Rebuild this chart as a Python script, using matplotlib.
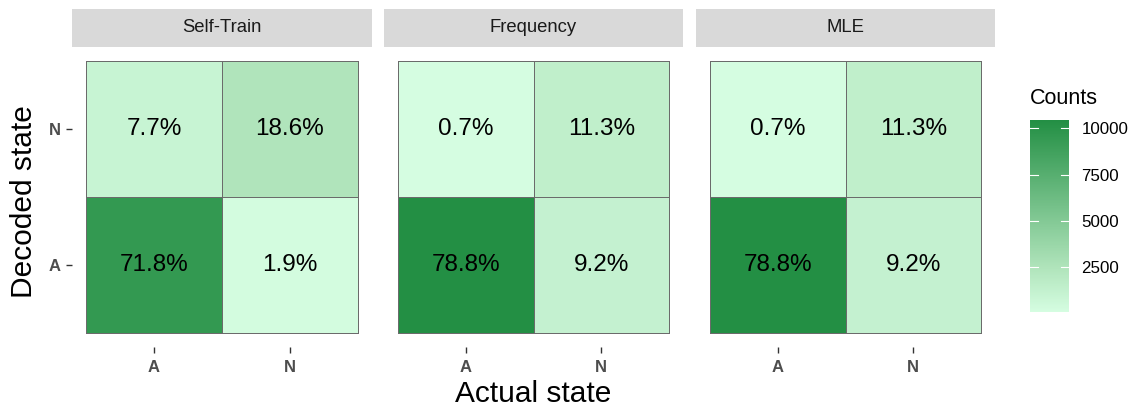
import numpy as np
import matplotlib
matplotlib.use("Agg")
import matplotlib.pyplot as plt
from matplotlib.colors import LinearSegmentedColormap, Normalize

plt.rcParams["font.family"] = ["Liberation Sans", "DejaVu Sans"]

# confusion matrices, percent of all windows (rows: decoded A, N; cols: actual A, N)
methods = ["Self-Train", "Frequency", "MLE"]
states = ["A", "N"]
pct_self_train = [[71.8, 1.9], [7.7, 18.6]]
pct_frequency = [[78.8, 9.2], [0.7, 11.3]]
pct_mle = [[78.8, 9.2], [0.7, 11.3]]
n_total = 13260
cbar_ticks = [2500, 5000, 7500, 10000]

pcts = [np.array(pct_self_train), np.array(pct_frequency), np.array(pct_mle)]
counts = [p / 100 * n_total for p in pcts]

W, H = 1134, 408
fig = plt.figure(figsize=(W / 100, H / 100), dpi=100)


def box(x0, y0, x1, y1):
    # pixel box (top-left origin) -> figure fraction rect
    return [x0 / W, 1 - y1 / H, (x1 - x0) / W, (y1 - y0) / H]


cmap = LinearSegmentedColormap.from_list(
    "cnt", [(0.0, "#d5fde1"), (0.23, "#b0e4bb"), (1.0, "#238f44")])
vmin = min(c.min() for c in counts)
vmax = max(c.max() for c in counts)
norm = Normalize(vmin=vmin, vmax=vmax)

panel_x = [(72, 372), (384, 683), (696, 995)]
edges = np.array([-0.5, 0.5, 1.5])
pad = 0.103

for i, (name, pc, cnt) in enumerate(zip(methods, pcts, counts)):
    x0, x1 = panel_x[i]
    # facet strip
    sax = fig.add_axes(box(x0, 9, x1, 47))
    sax.set_facecolor("#d9d9d9")
    sax.set_xticks([])
    sax.set_yticks([])
    for s in sax.spines.values():
        s.set_visible(False)
    sax.text(0.5, 0.5, name, ha="center", va="center", fontsize=13.3,
             color="#1a1a1a", transform=sax.transAxes)

    ax = fig.add_axes(box(x0, 47, x1, 347))
    mesh = ax.pcolormesh(edges, edges, cnt, cmap=cmap, norm=norm,
                         edgecolors="#6b6b6b", linewidth=0.6)
    for r in range(2):
        for c in range(2):
            ax.text(c, r, f"{pc[r, c]:.1f}%", ha="center", va="center",
                    fontsize=17.5, color="black")
    ax.set_xlim(-0.5 - pad, 1.5 + pad)
    ax.set_ylim(-0.5 - pad, 1.5 + pad)
    for s in ax.spines.values():
        s.set_visible(False)
    ax.set_xticks([0, 1])
    ax.set_xticklabels(states, fontsize=12, fontweight="bold", color="#4d4d4d")
    ax.tick_params(axis="x", length=4, width=1, color="#333333", pad=5)
    if i == 0:
        ax.set_yticks([0, 1])
        ax.set_yticklabels(states, fontsize=12, fontweight="bold", color="#4d4d4d")
        ax.tick_params(axis="y", length=4, width=1, color="#333333", pad=4)
    else:
        ax.set_yticks([])

fig.text(24 / W, 1 - 202 / H, "Decoded state", rotation=90, ha="center",
         va="center", fontsize=21.5)
fig.text(533 / W, 1 - 394 / H, "Actual state", ha="center", va="center",
         fontsize=21.5)

# legend
fig.text(1030 / W, 1 - 98 / H, "Counts", ha="left", va="center", fontsize=15.5)
cax = fig.add_axes(box(1030, 120, 1069, 312))
cb = fig.colorbar(mesh, cax=cax, ticks=cbar_ticks)
cb.outline.set_visible(False)
cax.tick_params(length=0, pad=9, labelsize=12.2)
for t in cbar_ticks:
    cax.axhline(t, xmin=0, xmax=0.2, color="white", lw=0.8)
    cax.axhline(t, xmin=0.8, xmax=1, color="white", lw=0.8)

fig.savefig("out.png", dpi=100, facecolor="white")
